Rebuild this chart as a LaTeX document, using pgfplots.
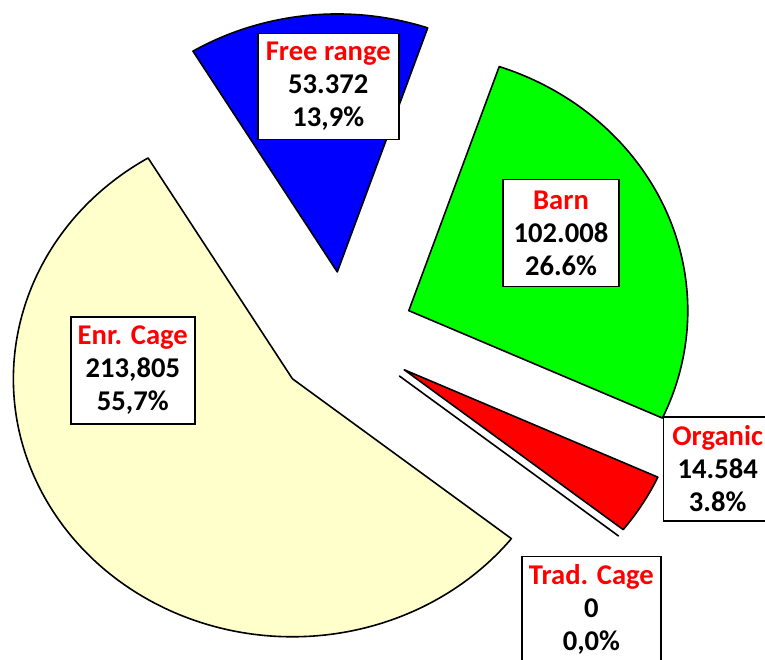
\documentclass[border=0pt]{standalone}
\usepackage{pgfplots}
\usepackage{pgfplotstable}
\usepackage{fontspec}
\setmainfont{Carlito}
\pgfplotsset{compat=1.18}

\definecolor{slice0}{RGB}{255,255,204}
\definecolor{slice1}{RGB}{255,255,255}
\definecolor{slice2}{RGB}{255,0,0}
\definecolor{slice3}{RGB}{0,255,0}
\definecolor{slice4}{RGB}{0,0,255}

\tikzset{lbl/.style={draw=black, line width=0.75pt, fill=white, align=center,
    inner sep=0pt, font=\fontsize{14.3}{16.5}\selectfont\bfseries}}

% values in thousands
\pgfplotstableread{
name value
Enr 213.805
Trad 0
Org 14.584
Barn 102.008
Free 53.372
}\piedata

% slice angles from the data
\pgfmathsetmacro\total{0}%
\pgfplotsforeachungrouped \i in {0,...,4}{%
  \pgfplotstablegetelem{\i}{value}\of\piedata
  \pgfmathsetmacro\total{\total+\pgfplotsretval}%
}%
\pgfmathsetmacro\cur{121.15}%
\pgfplotsforeachungrouped \i in {0,...,4}{%
  \pgfplotstablegetelem{\i}{value}\of\piedata
  \pgfmathsetmacro\sweep{\pgfplotsretval/\total*360}%
  \pgfmathsetmacro\midang{\cur+\sweep/2}%
  \pgfmathsetmacro\endang{\cur+\sweep}%
  \expandafter\xdef\csname sa\i\endcsname{\cur}%
  \expandafter\xdef\csname ea\i\endcsname{\endang}%
  \pgfmathsetmacro\tmp{0.25*cos(\midang)}\expandafter\xdef\csname ax\i\endcsname{\tmp}%
  \pgfmathsetmacro\tmp{0.25*sin(\midang)}\expandafter\xdef\csname ay\i\endcsname{\tmp}%
  \pgfmathsetmacro\tmp{\csname ax\i\endcsname+cos(\cur)}\expandafter\xdef\csname sx\i\endcsname{\tmp}%
  \pgfmathsetmacro\tmp{\csname ay\i\endcsname+sin(\cur)}\expandafter\xdef\csname sy\i\endcsname{\tmp}%
  \global\let\cur\endang
}%

\begin{document}
\begin{tikzpicture}
\begin{axis}[
    x=139.5pt, y=129pt,
    xmin=-1.23548, xmax=1.50645,
    ymin=-1.25155, ymax=1.30271,
    hide axis,
    clip=false,
]
\pgfplotsinvokeforeach{0,...,4}{
  \edef\temp{\noexpand\fill[fill=slice#1, draw=black, line width=0.8pt, line join=round]
    (axis cs:\csname ax#1\endcsname,\csname ay#1\endcsname) --
    (axis cs:\csname sx#1\endcsname,\csname sy#1\endcsname)
    arc[start angle=\csname sa#1\endcsname, end angle=\csname ea#1\endcsname,
        x radius=139.5pt, y radius=129pt] -- cycle;}
  \temp
}
\node[lbl, minimum width=70.5pt, minimum height=53pt] at (axis cs:-0.0588,0.9682)
  {\textcolor{red}{Free range}\\53.372\\13,9\%};
\node[lbl, minimum width=58pt, minimum height=53.5pt] at (axis cs:0.7753,0.3996)
  {\textcolor{red}{Barn}\\102.008\\26.6\%};
\node[lbl, minimum width=62pt, minimum height=53.5pt] at (axis cs:-0.7595,-0.1326)
  {\textcolor{red}{Enr. Cage}\\213,805\\55,7\%};
\node[lbl, minimum width=54.4pt, minimum height=52pt] at (axis cs:1.3369,-0.5145)
  {\textcolor{red}{Organic}\\14.584\\3.8\%};
\node[lbl, minimum width=69.6pt, minimum height=53pt] at (axis cs:0.8842,-1.0605)
  {\textcolor{red}{Trad. Cage}\\0\\0,0\%};
\coordinate (bl) at (axis cs:-1.23548,-1.25155);
\coordinate (tr) at (axis cs:1.50645,1.30271);
\end{axis}
\pgfresetboundingbox
\useasboundingbox (bl) rectangle (tr);
\end{tikzpicture}
\end{document}
